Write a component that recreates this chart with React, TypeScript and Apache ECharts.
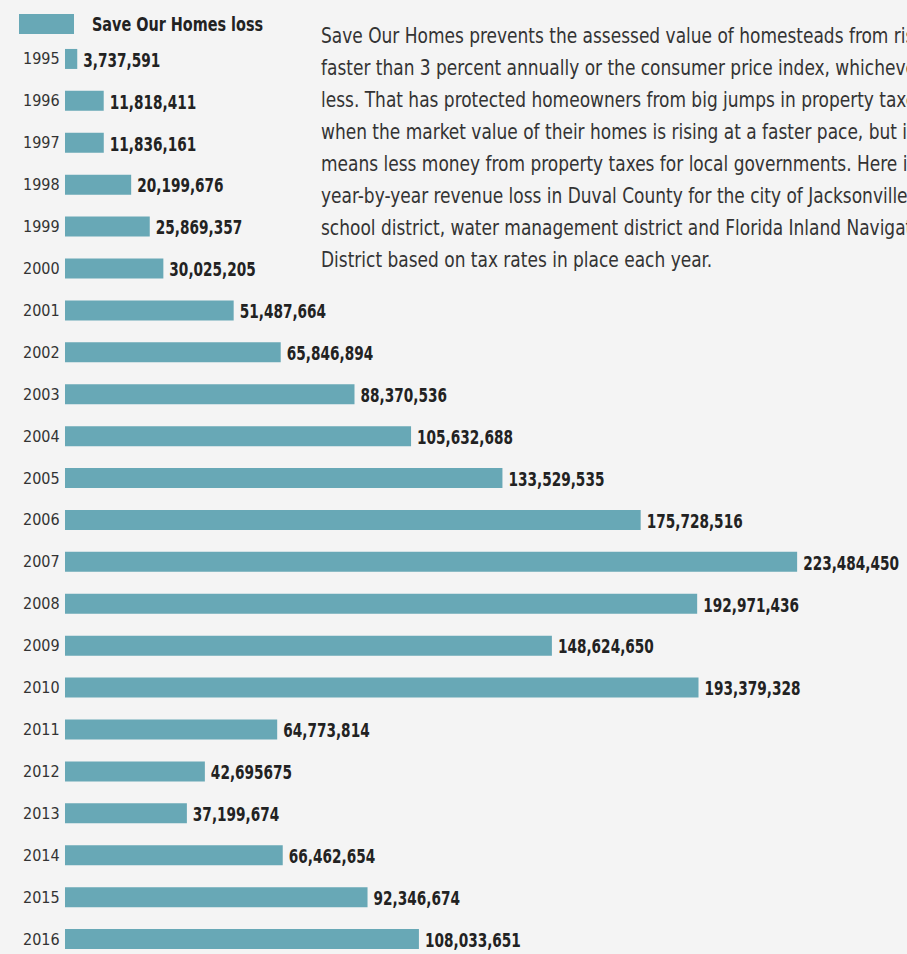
import React, { useEffect, useRef } from "react";
import * as echarts from "echarts";

const years = ["1995","1996","1997","1998","1999","2000","2001","2002","2003","2004","2005","2006","2007","2008","2009","2010","2011","2012","2013","2014","2015","2016"];
const losses = [3737591,11818411,11836161,20199676,25869357,30025205,51487664,65846894,88370536,105632688,133529535,175728516,223484450,192971436,148624650,193379328,64773814,42695675,37199674,66462654,92346674,108033651];
const lossLabels = ["3,737,591","11,818,411","11,836,161","20,199,676","25,869,357","30,025,205","51,487,664","65,846,894","88,370,536","105,632,688","133,529,535","175,728,516","223,484,450","192,971,436","148,624,650","193,379,328","64,773,814","42,695675","37,199,674","66,462,654","92,346,674","108,033,651"];
const seriesName = "Save Our Homes loss";
const introLines = [
  "Save Our Homes prevents the assessed value of homesteads from rising",
  "faster than 3 percent annually or the consumer price index, whichever is",
  "less. That has protected homeowners from big jumps in property taxes",
  "when the market value of their homes is rising at a faster pace, but it",
  "means less money from property taxes for local governments. Here is the",
  "year-by-year revenue loss in Duval County for the city of Jacksonville,",
  "school district, water management district and Florida Inland Navigation",
  "District based on tax rates in place each year.",
];

const FONT = "'DejaVu Sans Condensed', 'DejaVu Sans', sans-serif";
const BAR = "#68a8b6";

export default function App() {
  const ref = useRef<HTMLDivElement>(null);
  useEffect(() => {
    if (!ref.current) return;
    const chart = echarts.init(ref.current, undefined, { renderer: "svg" });
    chart.setOption({
      animation: false,
      backgroundColor: "#f4f4f4",
      textStyle: { fontFamily: FONT },
      grid: { left: 65, right: 23, top: 38, height: 922 },
      xAxis: { type: "value", min: 0, max: 250000000, show: false },
      yAxis: {
        type: "category",
        inverse: true,
        data: years,
        axisLine: { show: false },
        axisTick: { show: false },
        axisLabel: { fontFamily: FONT, fontSize: 16, color: "#333", align: "left", margin: 42 },
      },
      series: [
        {
          name: seriesName,
          type: "bar",
          data: losses,
          barWidth: 20,
          itemStyle: { color: BAR },
        },
        {
          name: "values",
          type: "custom",
          data: losses.map((v, i) => [v, i]),
          encode: { x: 0, y: 1 },
          renderItem: (params: any, api: any) => {
            const pt = api.coord([api.value(0), api.value(1)]);
            return {
              type: "text",
              x: pt[0] + 6,
              y: pt[1] + 1,
              scaleX: 0.76,
              style: {
                text: lossLabels[params.dataIndex],
                fontFamily: FONT,
                fontSize: 20,
                fontWeight: "bold",
                fill: "#222",
                align: "left",
                verticalAlign: "middle",
              },
            };
          },
        },
      ],
      graphic: [
        { type: "rect", left: 19, top: 14, shape: { width: 55, height: 20 }, style: { fill: BAR } },
        {
          type: "text",
          x: 92,
          y: 24,
          scaleX: 0.8,
          style: {
            text: seriesName,
            fontFamily: FONT,
            fontSize: 20,
            fontWeight: "bold",
            fill: "#222",
            verticalAlign: "middle",
          },
        },
        {
          type: "text",
          x: 321,
          y: 19,
          scaleX: 0.86,
          style: {
            text: introLines.join("\n"),
            fontFamily: FONT,
            fontSize: 22,
            lineHeight: 32,
            fill: "#333",
          },
        },
      ],
    });
    return () => chart.dispose();
  }, []);
  return <div ref={ref} style={{ position: "fixed", left: 0, top: 0, width: 907, height: 972 }} />;
}
